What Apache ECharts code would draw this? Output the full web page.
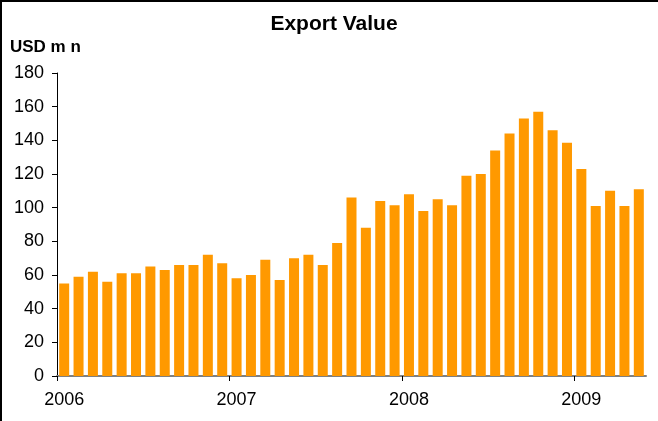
<!DOCTYPE html>
<html>
<head>
<meta charset="utf-8">
<script src="https://cdn.jsdelivr.net/npm/echarts@6/dist/echarts.min.js"></script>
<style>
html,body{margin:0;padding:0;background:#fff;}
#frame{position:absolute;left:0;top:0;width:658px;height:421px;box-sizing:border-box;border-left:2px solid #000;border-top:2px solid #000;}
#chart{position:absolute;left:0;top:0;width:658px;height:421px;}
</style>
</head>
<body>
<div id="chart"></div>
<div id="frame"></div>
<script>
const months = [];
for (let y = 2006; y <= 2009; y++) {
  for (let m = 1; m <= 12; m++) {
    if (y === 2009 && m > 5) break;
    months.push(y + '-' + (m < 10 ? '0' + m : m));
  }
}
const exportValue = [
  55, 59, 62, 56, 61, 61, 65, 63, 66, 66, 72, 67,
  58, 60, 69, 57, 70, 72, 66, 79, 106, 88, 104, 101.5,
  108, 98, 105, 101.5, 119, 120, 134, 144, 153, 157, 146, 138.5,
  123, 101, 110, 101, 111
];
const yearTickPositions = [0, 12, 24, 36];
const yTicks = {min: 0, max: 180, step: 20};

const chart = echarts.init(document.getElementById('chart'), null, {renderer: 'canvas'});
chart.setOption({
  animation: false,
  title: [
    {text: 'Export Value', left: 329, top: 9, textAlign: 'center',
     textStyle: {fontFamily: 'Liberation Sans, Arial', fontSize: 21, fontWeight: 'bold', color: '#000'}},
    {text: 'USD m n', left: 5, top: 34,
     textStyle: {fontFamily: 'Liberation Sans, Arial', fontSize: 17, fontWeight: 'bold', color: '#000'}}
  ],
  grid: {left: 57, right: 12, top: 73, bottom: 45, containLabel: false},
  xAxis: [{
    type: 'category',
    data: months,
    boundaryGap: true,
    axisLine: {lineStyle: {color: '#808080', width: 2}},
    axisTick: {show: false},
    axisLabel: {
      interval: function (i) { return i % 12 === 0; },
      formatter: function (v) { return v.slice(0, 4); },
      margin: 15,
      fontFamily: 'Liberation Sans, Arial', fontSize: 18, color: '#000'
    },
    splitLine: {show: false}
  }, {
    type: 'value',
    position: 'bottom',
    min: 0, max: months.length,
    axisLine: {show: false},
    axisTick: {show: true, length: 5, customValues: yearTickPositions, lineStyle: {color: '#000', width: 1}},
    axisLabel: {show: false},
    splitLine: {show: false}
  }],
  yAxis: {
    type: 'value',
    min: yTicks.min, max: yTicks.max, interval: yTicks.step,
    axisLine: {show: true, lineStyle: {color: '#000', width: 1}},
    axisTick: {show: true, length: 5, lineStyle: {color: '#000'}},
    axisLabel: {margin: 13, fontFamily: 'Liberation Sans, Arial', fontSize: 18, color: '#000'},
    splitLine: {show: false}
  },
  series: [{
    type: 'bar',
    xAxisIndex: 0,
    data: exportValue,
    barWidth: 10,
    itemStyle: {color: '#FF9900'}
  }]
});
</script>
</body>
</html>
